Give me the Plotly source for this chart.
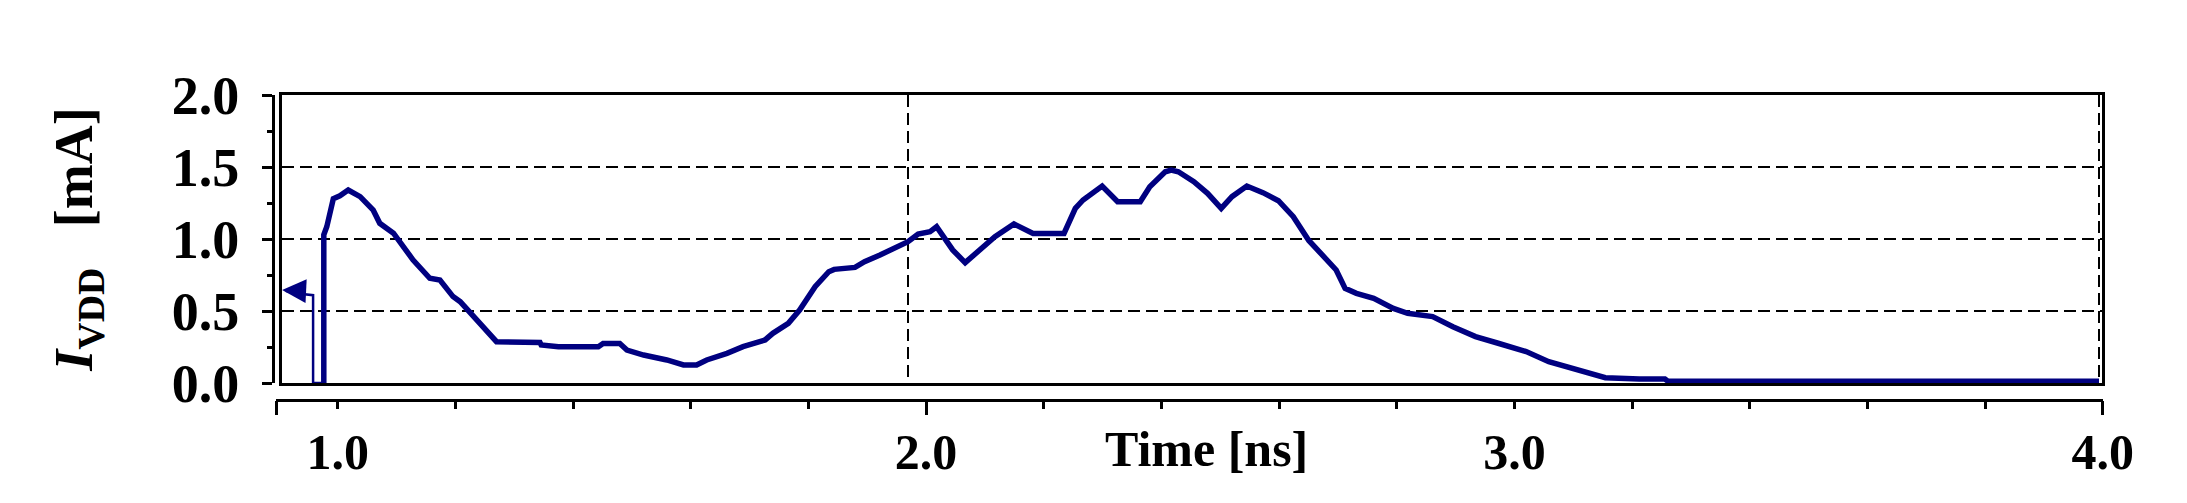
import plotly.graph_objects as go

# ---------------- data ----------------
# thin lead-in segment (cursor arrow + step down)
t_lead = [0.955, 0.967, 1.001, 1.001, 1.019]
i_lead = [0.640, 0.625, 0.610, 0.000, 0.000]

# main supply-current waveform
time_ns = [1.019, 1.019, 1.024, 1.029, 1.035, 1.046, 1.060, 1.080, 1.102, 1.113,
           1.136, 1.169, 1.197, 1.214, 1.236, 1.248, 1.270, 1.293, 1.309, 1.382,
           1.384, 1.413, 1.480, 1.488, 1.516, 1.528, 1.556, 1.595, 1.623, 1.645,
           1.662, 1.696, 1.723, 1.751, 1.760, 1.773, 1.799, 1.818, 1.844, 1.867,
           1.876, 1.911, 1.927, 1.953, 1.979, 2.000, 2.017, 2.037, 2.048, 2.056,
           2.075, 2.096, 2.120, 2.146, 2.178, 2.197, 2.210, 2.262, 2.281, 2.294,
           2.326, 2.352, 2.390, 2.406, 2.432, 2.442, 2.454, 2.480, 2.503, 2.526,
           2.544, 2.569, 2.596, 2.622, 2.647, 2.673, 2.700, 2.719, 2.734, 2.753,
           2.782, 2.815, 2.839, 2.881, 2.915, 2.953, 2.991, 3.038, 3.076, 3.124,
           3.171, 3.228, 3.271, 3.276, 4.000]
i_vdd_mA = [0.000, 1.030, 1.085, 1.180, 1.280, 1.300, 1.340, 1.294, 1.200, 1.109,
            1.040, 0.854, 0.727, 0.715, 0.600, 0.565, 0.460, 0.356, 0.287, 0.281,
            0.264, 0.252, 0.252, 0.274, 0.274, 0.229, 0.194, 0.160, 0.125, 0.125,
            0.160, 0.206, 0.252, 0.287, 0.299, 0.345, 0.414, 0.507, 0.669, 0.773,
            0.789, 0.803, 0.842, 0.889, 0.935, 0.981, 1.035, 1.051, 1.085, 1.039,
            0.924, 0.836, 0.924, 1.016, 1.104, 1.062, 1.039, 1.039, 1.213, 1.271,
            1.368, 1.259, 1.259, 1.363, 1.467, 1.479, 1.467, 1.398, 1.317, 1.213,
            1.294, 1.368, 1.322, 1.266, 1.155, 0.990, 0.877, 0.785, 0.657, 0.623,
            0.588, 0.518, 0.484, 0.461, 0.391, 0.322, 0.276, 0.218, 0.148, 0.090,
            0.037, 0.028, 0.028, 0.012, 0.012]

y_tick_vals = [0.0, 0.5, 1.0, 1.5, 2.0]
y_grid_vals = [0.5, 1.0, 1.5]
x_label_vals = [1.0, 2.0, 3.0, 4.0]
x_grid_vals = [2.0, 4.0]
x_long_ticks = [0.896, 2.0, 4.0]

NAVY = "#000080"
SERIF = "Liberation Serif"

fig = go.Figure()

fig.add_trace(go.Scatter(x=t_lead, y=i_lead, mode="lines",
                         line=dict(color=NAVY, width=2.5),
                         xaxis="x", yaxis="y", hoverinfo="skip"))
fig.add_trace(go.Scatter(x=time_ns, y=i_vdd_mA, mode="lines",
                         line=dict(color=NAVY, width=5.5),
                         xaxis="x", yaxis="y", hoverinfo="skip"))
# carriers for the detached tick axes
fig.add_trace(go.Scatter(x=[None], y=[None], xaxis="x2", yaxis="y2", hoverinfo="skip"))
fig.add_trace(go.Scatter(x=[None], y=[None], xaxis="x3", yaxis="y2", hoverinfo="skip"))

W, H = 2187, 503
L, R, T, B = 262, 85, 82, 108
OFF = 8  # page body margin
pw, ph = W - L - R, H - T - B

def px(xp):
    return (xp - OFF - L) / pw

def py(yp):
    return (H - B - (yp - OFF)) / ph

x_dom = [px(282), px(2102)]
y_dom = [py(383), py(95)]
x_rng = [0.9488, 4.005]
x2_rng = [0.895, 4.0005]
x2_dom = [px(276), px(2103)]

fig.update_layout(
    width=W, height=H,
    margin=dict(l=L, r=R, t=T, b=B, autoexpand=False),
    paper_bgcolor="white", plot_bgcolor="rgba(0,0,0,0)",
    showlegend=False,
    font=dict(family=SERIF, color="black"),
    xaxis=dict(domain=x_dom, range=x_rng, anchor="y",
               showline=True, mirror=True, linecolor="black", linewidth=3,
               tickvals=x_grid_vals, showticklabels=False, ticks="",
               showgrid=True, gridcolor="black", gridwidth=2, griddash="12px,6px",
               zeroline=False),
    yaxis=dict(domain=y_dom, range=[0, 2], anchor="x",
               showline=True, mirror=True, linecolor="black", linewidth=3,
               tickvals=y_grid_vals, showticklabels=False, ticks="",
               showgrid=True, gridcolor="black", gridwidth=2, griddash="12px,6px",
               zeroline=False),
    xaxis2=dict(domain=x2_dom, range=x2_rng, anchor="free", position=py(400),
                showline=True, linecolor="black", linewidth=3,
                tickvals=x_label_vals, tickformat=".1f",
                ticks="outside", ticklen=7, tickwidth=2.5, tickcolor="black",
                minor=dict(dtick=0.2, tick0=0, ticks="outside", ticklen=7,
                           tickwidth=2.5, tickcolor="black", showgrid=False),
                tickfont=dict(family=SERIF, size=50, weight="bold", color="black"),
                ticklabelstandoff=0,
                showgrid=False, zeroline=False, automargin=False),
    xaxis3=dict(overlaying="x2", range=x2_rng, anchor="free", position=py(400),
                showline=False, tickvals=x_long_ticks, showticklabels=False,
                ticks="outside", ticklen=14, tickwidth=2.5, tickcolor="black",
                showgrid=False, zeroline=False, automargin=False),
    yaxis2=dict(domain=y_dom, range=[0, 2], anchor="free", position=px(273),
                showline=True, linecolor="black", linewidth=3,
                tickvals=y_tick_vals, tickformat=".1f",
                ticks="outside", ticklen=10, tickwidth=2.5, tickcolor="black",
                minor=dict(dtick=0.25, tick0=0, ticks="outside", ticklen=5,
                           tickwidth=2.5, tickcolor="black", showgrid=False),
                tickfont=dict(family=SERIF, size=54, weight="bold", color="black"),
                ticklabelstandoff=12,
                title=dict(text="<i>I</i><sub>VDD</sub>&nbsp;&nbsp;&nbsp;[mA]",
                           font=dict(family=SERIF, size=54, weight="bold", color="black"),
                           standoff=60),
                showgrid=False, zeroline=False, automargin=False),
)

# cursor arrow at the left edge
fig.add_annotation(x=t_lead[0] - 0.006, y=0.646, xref="x", yref="y",
                   ax=t_lead[1] + 0.012, ay=0.640, axref="x", ayref="y",
                   text="", showarrow=True, arrowhead=2, arrowsize=1.6,
                   arrowwidth=3, arrowcolor=NAVY)

# x-axis caption sitting in the tick-label row
fig.add_annotation(x=px(1206), y=py(449), xref="paper", yref="paper",
                   text="Time [ns]", showarrow=False, xanchor="center", yanchor="middle",
                   font=dict(family=SERIF, size=50, weight="bold", color="black"))

fig.write_html("out.html")
